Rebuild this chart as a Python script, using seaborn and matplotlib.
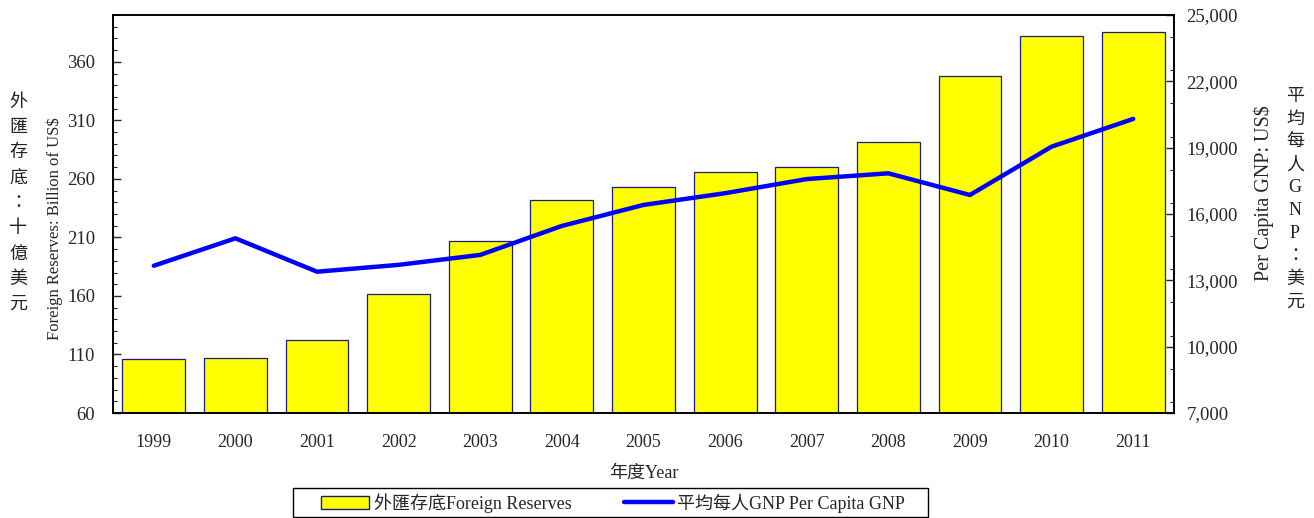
import numpy as np
import pandas as pd
import matplotlib
matplotlib.use("Agg")
import matplotlib.pyplot as plt
from matplotlib.patches import Patch, Rectangle
from matplotlib.lines import Line2D
from matplotlib.ticker import MultipleLocator, FuncFormatter
import seaborn as sns

years = ["1999", "2000", "2001", "2002", "2003", "2004", "2005",
         "2006", "2007", "2008", "2009", "2010", "2011"]
reserves = [106.2, 106.7, 122.2, 161.7, 206.6, 241.7, 253.3,
            266.1, 270.3, 291.7, 348.2, 382.0, 385.5]
gnp = [13660, 14900, 13390, 13700, 14150, 15460, 16410,
       16940, 17580, 17840, 16860, 19045, 20300]

left_ticks = [60, 110, 160, 210, 260, 310, 360]
right_ticks = [7000, 10000, 13000, 16000, 19000, 22000, 25000]

sns.set_style("ticks")
FAM = ["Liberation Serif", "Noto Sans CJK TC", "DejaVu Sans"]
plt.rcParams["font.family"] = FAM

df = pd.DataFrame({"year": years, "reserves": reserves, "gnp": gnp,
                   "pos": np.arange(len(years))})

fig = plt.figure(figsize=(13.14, 5.18), dpi=100)
ax = fig.add_axes([113 / 1314, 105 / 518, (1174 - 113) / 1314, (413 - 15) / 518])

sns.barplot(data=df, x="year", y="reserves", ax=ax, color="#FFFF00",
            saturation=1, width=0.77, edgecolor="#1a1a80", linewidth=0.9)
ax.set_ylim(60, 400)
ax.set_xlim(-0.5, len(years) - 0.5)
ax.set_yticks(left_ticks)
ax.yaxis.set_minor_locator(MultipleLocator(10))
ax.tick_params(axis="y", which="major", direction="in", length=6, width=1,
               pad=13, labelsize=13.5)
ax.tick_params(axis="y", which="minor", direction="in", length=3, width=0.8)
ax.tick_params(axis="x", length=0, pad=15, labelsize=13)
ax.set_xlabel("年度Year", fontsize=13, labelpad=10)
ax.set_ylabel("Foreign Reserves: Billion of US$", fontsize=12, labelpad=6)
ax.yaxis.set_label_coords(-0.047, 0.462)
for s in ax.spines.values():
    s.set_color("black")
    s.set_linewidth(1.2)

ax2 = ax.twinx()
sns.lineplot(data=df, x="pos", y="gnp", ax=ax2, color="#0000FF",
             linewidth=3.2, legend=False)
ax2.set_xlim(-0.5, len(years) - 0.5)
ax2.set_ylim(7000, 25000)
ax2.set_yticks(right_ticks)
ax2.yaxis.set_minor_locator(MultipleLocator(1500))
ax2.yaxis.set_major_formatter(FuncFormatter(lambda v, p: f"{int(v):,}"))
ax2.tick_params(axis="y", which="major", direction="in", length=6, width=1,
                pad=9, labelsize=13.5)
ax2.tick_params(axis="y", which="minor", direction="in", length=3, width=0.8)
ax2.set_ylabel("Per Capita GNP: US$", fontsize=14.5, labelpad=8)
ax2.yaxis.set_label_coords(1.075, 0.553)
for s in ax2.spines.values():
    s.set_color("black")
    s.set_linewidth(1.2)

fig.text(18 / 1314, 1 - 203 / 518, "\n".join("外匯存底：十億美元"),
         ha="center", va="center", fontsize=13, linespacing=1.52,
         family=["Noto Sans CJK TC", "DejaVu Sans"], color="#222222")
fig.text(1295 / 1314, 1 - 199 / 518, "\n".join("平均每人GNP：美元"),
         ha="center", va="center", fontsize=13, linespacing=1.45,
         family=FAM, color="#222222")

handles = [Patch(facecolor="#FFFF00", edgecolor="#1a1a80", linewidth=1),
           Line2D([], [], color="#0000FF", linewidth=3.2)]
leg = fig.legend(handles, ["外匯存底Foreign Reserves", "平均每人GNP Per Capita GNP"],
                 loc="center", bbox_to_anchor=(613 / 1314, 1 - 503 / 518),
                 ncol=2, fontsize=13, frameon=False, columnspacing=2.9,
                 handlelength=2.7, handletextpad=0.25, borderpad=0.2,
                 borderaxespad=0)
fig.patches.append(Rectangle((293 / 1314, 1 / 518), (928 - 293) / 1314, 29 / 518,
                             transform=fig.transFigure, fill=False,
                             edgecolor="black", linewidth=1))

fig.savefig("out.png", dpi=100)
